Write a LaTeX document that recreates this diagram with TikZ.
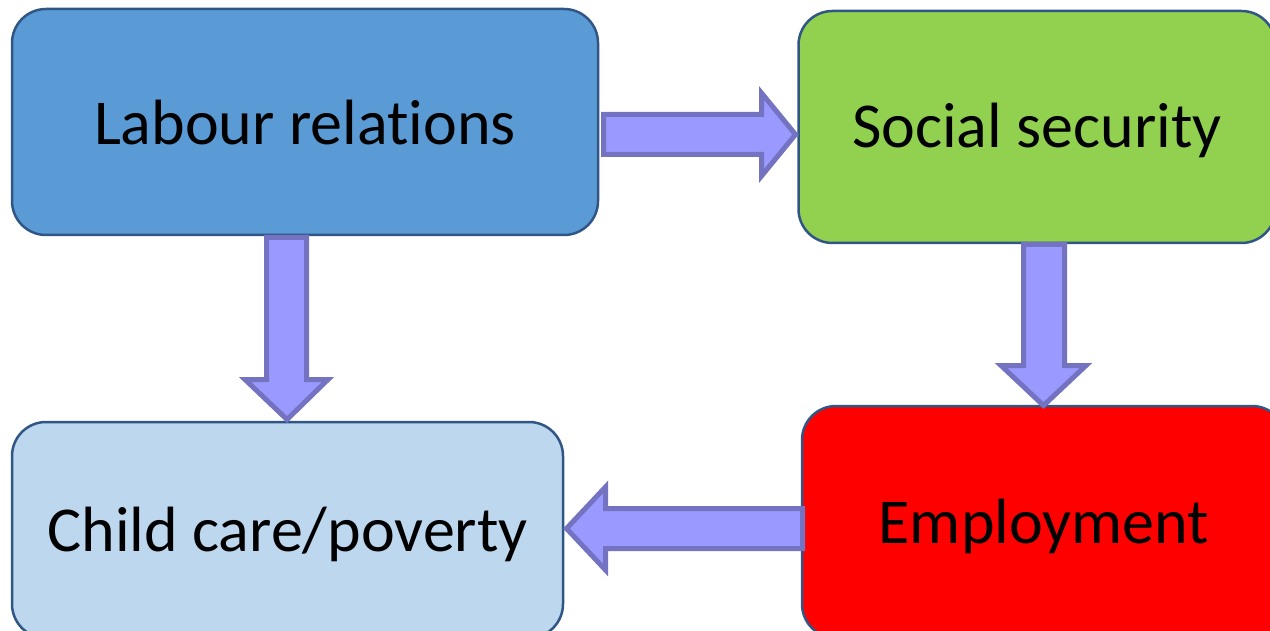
\documentclass[tikz,border=0pt]{standalone}
\usepackage{fontspec}
\setmainfont{Carlito}[Ligatures=NoCommon, RawFeature={-liga;-dlig;-clig}]
\definecolor{boxline}{HTML}{2F5685}
\definecolor{labourfill}{HTML}{5B9BD5}
\definecolor{socialfill}{HTML}{92D050}
\definecolor{childfill}{HTML}{BDD7EE}
\definecolor{employfill}{HTML}{FF0000}
\definecolor{arrowfill}{HTML}{9999FF}
\definecolor{arrowline}{HTML}{7373C2}
\begin{document}
\begin{tikzpicture}[x=1pt,y=-1pt,
  topic/.style={draw=boxline, line width=2.5pt, rounded corners=34pt, inner sep=0pt},
  topictext/.style={inner sep=0pt, font=\fontsize{64}{76}\selectfont},
  blockarrow/.style={fill=arrowfill, draw=arrowline, line width=5pt, line join=miter}]
\useasboundingbox (0,0) rectangle (1270,631);
\clip (0,0) rectangle (1270,631);
% four topic boxes
\node[topic, fill=labourfill, minimum width=586pt, minimum height=226pt] (labour) at (305,122) {};
\node[topic, fill=socialfill, minimum width=477pt, minimum height=232pt] (social) at (1037,127) {};
\node[topic, fill=childfill, minimum width=551pt, minimum height=216pt] (child) at (287.5,530) {};
\node[topic, fill=employfill, minimum width=484pt, minimum height=232pt] (employ) at (1044,522) {};
% their labels
\node[topictext] (labourtext) at ([yshift=-1pt]labour.center) {Labour relations};
\node[topictext] (socialtext) at ([yshift=-3pt]social.center) {Social security};
\node[topictext] (childtext) at ([yshift=-4pt]child.center) {Child care/poverty};
\node[topictext] (employtext) at ([yshift=-4pt]employ.center) {Employment};
% block arrows between the boxes
\draw[blockarrow] (603.5,114.5) -- (761.5,114.5) -- (761.5,93) -- (795.5,134.5)
  -- (761.5,176) -- (761.5,154.5) -- (603.5,154.5) -- cycle;
\draw[blockarrow] (266.5,237.5) -- (306.5,237.5) -- (306.5,379.5) -- (328,379.5)
  -- (287,419.5) -- (245,379.5) -- (266.5,379.5) -- cycle;
\draw[blockarrow] (1023.5,244.5) -- (1064.5,244.5) -- (1064.5,365.5) -- (1086,365.5)
  -- (1043.5,405.5) -- (1001,365.5) -- (1023.5,365.5) -- cycle;
\draw[blockarrow] (802.5,508.5) -- (605.5,508.5) -- (605.5,487) -- (566.5,528.5)
  -- (605.5,570) -- (605.5,548.5) -- (802.5,548.5) -- cycle;
\end{tikzpicture}
\end{document}
